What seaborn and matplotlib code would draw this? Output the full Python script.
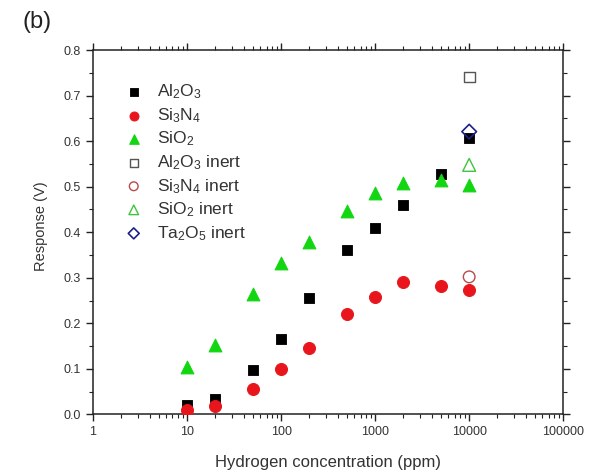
import matplotlib
matplotlib.use("Agg")
import matplotlib.pyplot as plt
from matplotlib.ticker import LogLocator, MultipleLocator, NullFormatter, FixedLocator, FixedFormatter
import seaborn as sns
import pandas as pd

# Hydrogen concentration (ppm)
conc = [10, 20, 50, 100, 200, 500, 1000, 2000, 5000, 10000]
al2o3 = [0.021, 0.034, 0.097, 0.166, 0.255, 0.360, 0.410, 0.460, 0.527, 0.607]
si3n4 = [0.009, 0.018, 0.056, 0.100, 0.146, 0.220, 0.258, 0.290, 0.283, 0.274]
sio2 = [0.104, 0.153, 0.265, 0.333, 0.378, 0.446, 0.486, 0.508, 0.515, 0.503]

# Inert-gas measurements at 10000 ppm
inert_conc = [10000]
al2o3_inert = [0.741]
si3n4_inert = [0.302]
sio2_inert = [0.548]
ta2o5_inert = [0.621]

sns.set_style("ticks")
plt.rcParams["font.family"] = ["Liberation Sans", "DejaVu Sans"]
plt.rcParams["mathtext.fontset"] = "custom"
plt.rcParams["mathtext.rm"] = "Liberation Sans"
plt.rcParams["mathtext.it"] = "Liberation Sans"
plt.rcParams["mathtext.default"] = "regular"

fig = plt.figure(figsize=(5.96, 4.73), dpi=100)
ax = fig.add_axes([0.156, 0.124, 0.789, 0.770])

series = [
    (conc, al2o3, r"Al$_2$O$_3$", dict(marker="s", color="black", edgecolor="black", s=60)),
    (conc, si3n4, r"Si$_3$N$_4$", dict(marker="o", color="#e8161c", edgecolor="#e8161c", s=75)),
    (conc, sio2, r"SiO$_2$", dict(marker="^", color="#12d612", edgecolor="#12d612", s=85)),
    (inert_conc, al2o3_inert, r"Al$_2$O$_3$ inert",
     dict(marker="s", facecolor="none", edgecolor="#555555", s=60, linewidth=1.0)),
    (inert_conc, si3n4_inert, r"Si$_3$N$_4$ inert",
     dict(marker="o", facecolor="none", edgecolor="#b84a4a", s=70, linewidth=1.0)),
    (inert_conc, sio2_inert, r"SiO$_2$ inert",
     dict(marker="^", facecolor="none", edgecolor="#3ec43e", s=85, linewidth=1.0)),
    (inert_conc, ta2o5_inert, r"Ta$_2$O$_5$ inert",
     dict(marker="D", facecolor="none", edgecolor="#1e1e8c", s=55, linewidth=1.2)),
]

for xs, ys, label, kw in series:
    df = pd.DataFrame({"x": xs, "y": ys})
    sns.scatterplot(data=df, x="x", y="y", ax=ax, label=label, zorder=3, **kw)

ax.set_xscale("log")
ax.set_xlim(1, 100000)
ax.set_ylim(0, 0.8)

text_color = "#333333"
ax.xaxis.set_major_locator(FixedLocator([1, 10, 100, 1000, 10000, 100000]))
ax.xaxis.set_major_formatter(FixedFormatter(["1", "10", "100", "1000", "10000", "100000"]))
ax.xaxis.set_minor_locator(LogLocator(base=10, subs=range(2, 10), numticks=20))
ax.xaxis.set_minor_formatter(NullFormatter())
ax.yaxis.set_major_locator(MultipleLocator(0.1))
ax.yaxis.set_minor_locator(MultipleLocator(0.05))
ax.yaxis.set_major_formatter(plt.FuncFormatter(lambda v, p: f"{v:.1f}"))

for side in ["top", "right", "left", "bottom"]:
    ax.spines[side].set_visible(True)
    ax.spines[side].set_color("#222222")
    ax.spines[side].set_linewidth(1.1)

ax.tick_params(which="both", direction="out", top=True, right=True,
               labeltop=False, labelright=False, colors="#222222",
               labelcolor=text_color, labelsize=9)
ax.tick_params(which="major", length=5, width=1.0)
ax.tick_params(which="minor", length=3, width=0.8)

ax.set_xlabel("Hydrogen concentration (ppm)", fontsize=12, color=text_color)
ax.set_ylabel("Response (V)", fontsize=10.5, color=text_color)
ax.xaxis.set_label_coords(0.5, -0.132)
ax.xaxis.label.set_va("center")
ax.yaxis.set_label_coords(-0.11, 0.516)
ax.yaxis.label.set_va("center")

leg = ax.legend(loc="upper left", bbox_to_anchor=(0.035, 0.93), frameon=False,
                fontsize=12.5, handletextpad=0.35, labelspacing=0.28,
                markerscale=0.75, borderaxespad=0)
for t in leg.get_texts():
    t.set_color(text_color)

fig.text(0.038, 0.953, "(b)", fontsize=17, color="#222222", va="center", ha="left")

fig.savefig("out.png", dpi=100)
